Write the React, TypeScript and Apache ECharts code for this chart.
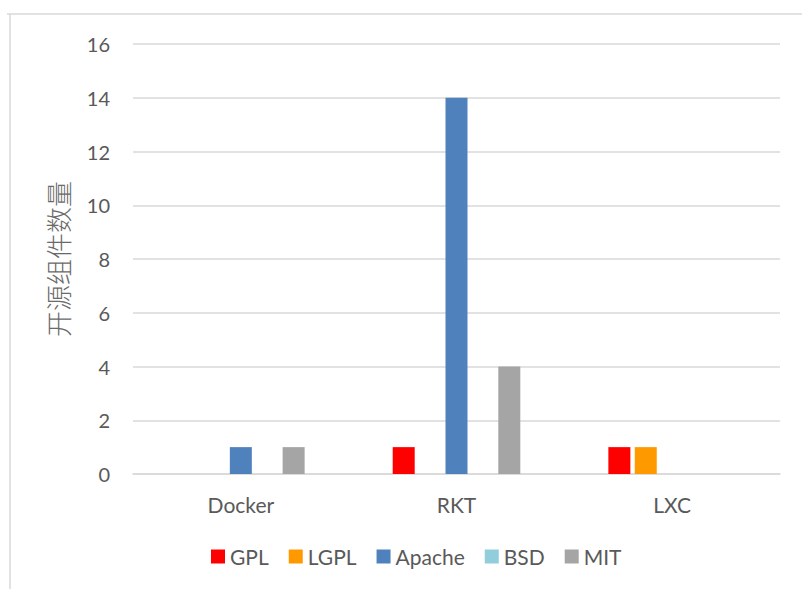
import React, { useEffect, useRef } from "react";
import * as echarts from "echarts";

const categories = ["Docker", "RKT", "LXC"];
const seriesNames = ["GPL", "LGPL", "Apache", "BSD", "MIT"];
const gplValues = [0, 1, 1];
const lgplValues = [0, 0, 1];
const apacheValues = [1, 14, 0];
const bsdValues = [0, 0, 0];
const mitValues = [1, 4, 0];
const seriesColors = ["#FF0000", "#FF9900", "#4F81BD", "#92CDDC", "#A5A5A5"];
const yTicks = { min: 0, max: 16, interval: 2 };

export default function App() {
  const ref = useRef<HTMLDivElement>(null);
  useEffect(() => {
    if (!ref.current) return;
    const chart = echarts.init(ref.current, undefined, { renderer: "svg" });
    const allValues = [gplValues, lgplValues, apacheValues, bsdValues, mitValues];
    const font = "Lato, 'Noto Sans', sans-serif";
    chart.setOption({
      animation: false,
      backgroundColor: "#ffffff",
      textStyle: { fontFamily: font },
      grid: { left: 133, right: 22, top: 44, bottom: 115 },
      legend: {
        data: seriesNames,
        bottom: 17,
        left: 206,
        icon: "rect",
        itemWidth: 14,
        itemHeight: 14,
        itemGap: 20,
        textStyle: { fontSize: 21, color: "#595959", fontFamily: font },
      },
      xAxis: {
        type: "category",
        data: categories,
        axisLine: { lineStyle: { color: "#d9d9d9", width: 1.5 } },
        axisTick: { show: false },
        axisLabel: { fontSize: 21, color: "#595959", margin: 20, fontFamily: font },
      },
      yAxis: {
        type: "value",
        min: yTicks.min,
        max: yTicks.max,
        interval: yTicks.interval,
        name: "开源组件数量",
        nameLocation: "middle",
        nameRotate: 90,
        nameGap: 63,
        nameTextStyle: { fontSize: 26, color: "#6a6a6a", fontFamily: "'Noto Sans CJK SC', sans-serif", fontWeight: 300 },
        axisLine: { show: false },
        axisTick: { show: false },
        axisLabel: { fontSize: 20, color: "#595959", margin: 23, fontFamily: font },
        splitLine: { lineStyle: { color: "#d9d9d9", width: 1.5 } },
      },
      series: seriesNames.map((name, i) => ({
        name,
        type: "bar",
        data: allValues[i],
        barWidth: 22,
        barGap: "20%",
        itemStyle: { color: seriesColors[i] },
      })),
      graphic: [
        { type: "line", shape: { x1: 7, y1: 14, x2: 802, y2: 14 }, style: { stroke: "#d9d9d9", lineWidth: 1.5 } },
        { type: "line", shape: { x1: 10, y1: 14, x2: 10, y2: 589 }, style: { stroke: "#d9d9d9", lineWidth: 1.5 } },
      ],
    });
    return () => chart.dispose();
  }, []);
  return <div ref={ref} style={{ width: 802, height: 589, position: "absolute", left: 0, top: 0 }} />;
}
